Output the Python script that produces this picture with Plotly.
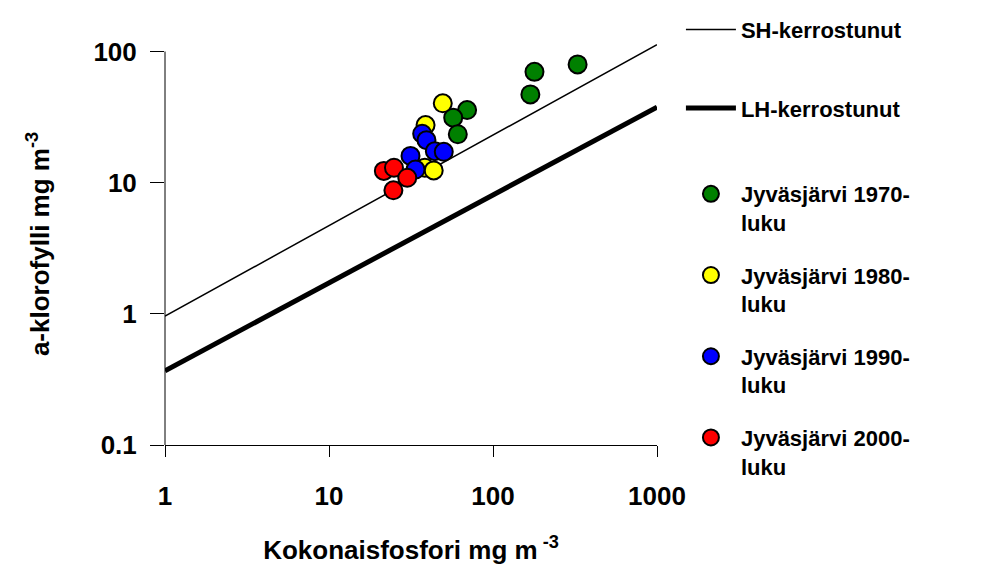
import plotly.graph_objects as go

# Model lines (at the axis ends)
line_tp = [1, 1000]
sh_chl = [0.96, 113]
lh_chl = [0.368, 37.7]

# Jyväsjärvi observations: total phosphorus (x) and chlorophyll-a (y)
tp_1970 = [328, 179, 169, 69.5, 57.2, 61]
chl_1970 = [79.8, 70, 47.1, 35.8, 31.3, 23.4]
tp_1980 = [49.4, 38.8, 38.4, 43.5]
chl_1980 = [40.3, 27.5, 13.0, 12.4]
tp_1990 = [37, 39.3, 44.2, 50.1, 31.4, 33.7]
chl_1990 = [23.6, 21.1, 17.4, 17.2, 16.0, 12.6]
tp_2000 = [21.6, 24.9, 30, 24.7]
chl_2000 = [12.3, 13.0, 10.9, 8.75]

names = ["SH-kerrostunut", "LH-kerrostunut",
         "Jyväsjärvi 1970-<br>luku", "Jyväsjärvi 1980-<br>luku",
         "Jyväsjärvi 1990-<br>luku", "Jyväsjärvi 2000-<br>luku"]
colors = ["#008000", "#FFFF00", "#0000FF", "#FF0000"]

FONT = "Liberation Sans, Arial, sans-serif"
LEGFONT = dict(family=FONT, size=22, weight="bold")

fig = go.Figure()
fig.add_trace(go.Scatter(x=line_tp, y=sh_chl, mode="lines", name=names[0],
                         line=dict(color="black", width=1.5), legendgroup="a",
                         legend="legend"))
fig.add_trace(go.Scatter(x=line_tp, y=lh_chl, mode="lines", name=names[1],
                         line=dict(color="black", width=5), legendgroup="b",
                         legend="legend"))
for i, (xs, ys) in enumerate([(tp_1970, chl_1970), (tp_1980, chl_1980),
                              (tp_1990, chl_1990), (tp_2000, chl_2000)]):
    fig.add_trace(go.Scatter(x=xs, y=ys, mode="markers", name=names[2 + i],
                             legendgroup="g%d" % i, legend="legend2",
                             marker=dict(size=18, color=colors[i],
                                         line=dict(color="black", width=2))))

ytop = 2.065
fig.update_layout(
    width=984, height=574,
    margin=dict(l=165, r=327, t=43, b=129, autoexpand=False),
    paper_bgcolor="white", plot_bgcolor="white",
    font=dict(family=FONT, color="black"),
    showlegend=True,
    legend=dict(xref="container", yref="container", x=0.692, y=0.985,
                xanchor="left", yanchor="top", bgcolor="white",
                font=LEGFONT, valign="top", tracegroupgap=47, itemwidth=50,
                maxheight=574),
    legend2=dict(xref="container", yref="container", x=0.692, y=0.6985,
                 xanchor="left", yanchor="top", bgcolor="white",
                 font=LEGFONT, valign="top", tracegroupgap=21, itemwidth=50,
                 maxheight=574),
    xaxis=dict(type="log", range=[0, 3], tickvals=[1, 10, 100, 1000],
               ticktext=["1", "10", "100", "1000"],
               showline=True, linecolor="black", linewidth=1,
               ticks="outside", ticklen=11, tickcolor="black",
               showgrid=False, zeroline=False, ticklabelstandoff=17,
               automargin=False,
               tickfont=dict(family=FONT, size=26, weight="bold"),
               title=dict(text="Kokonaisfosfori mg m<sup> -3</sup>", standoff=30,
                          font=dict(family=FONT, size=26, weight="bold"))),
    yaxis=dict(type="log", range=[-1, ytop], tickvals=[0.1, 1, 10, 100],
               ticktext=["0.1", "1", "10", "100"],
               showline=False,
               ticks="outside", ticklen=14, tickcolor="black",
               showgrid=False, zeroline=False, ticklabelstandoff=8,
               automargin=False,
               tickfont=dict(family=FONT, size=26, weight="bold"),
               title=dict(text="a-klorofylli mg m<sup>-3</sup>", standoff=36,
                          font=dict(family=FONT, size=26, weight="bold"))),
    shapes=[dict(type="line", xref="x domain", yref="y domain",
                 x0=0, x1=0, y0=0, y1=3 / (ytop + 1),
                 line=dict(color="black", width=1))],
)

fig.write_html("out.html")
